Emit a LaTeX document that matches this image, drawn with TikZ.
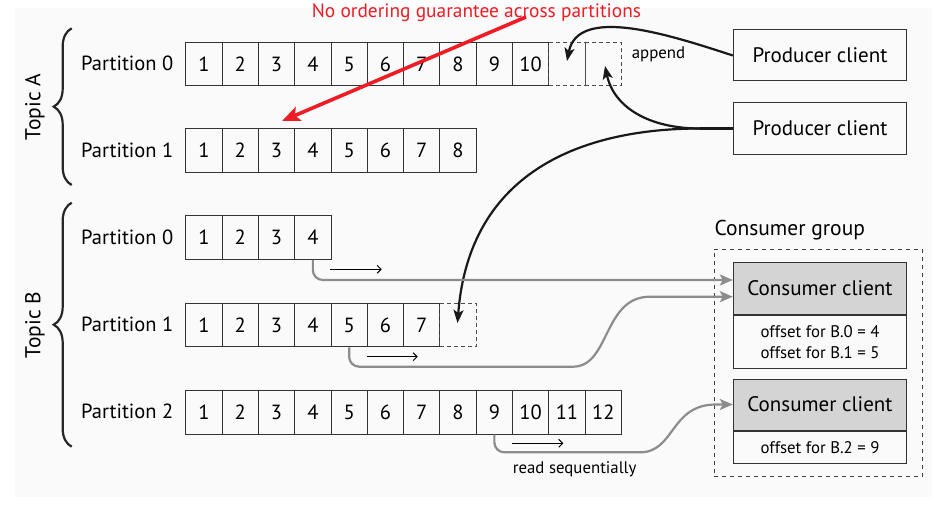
\documentclass[tikz,border=0pt]{standalone}
\usepackage{fontspec}
\setmainfont{PT Sans}
\usetikzlibrary{arrows.meta,decorations.pathreplacing}
\definecolor{kred}{HTML}{EE1C24}
\definecolor{kgray}{HTML}{8C8C8C}
\definecolor{kfill}{HTML}{D4D4D4}
\begin{document}
\begin{tikzpicture}[x=1pt,y=-1pt,
  cell/.style={draw=black!80, line width=1pt, minimum width=36.3pt, minimum height=43.6pt, inner sep=0pt, anchor=north west, font=\fontsize{20.5}{20.5}\selectfont},
  dcell/.style={cell, draw=black!70, dash pattern=on 4pt off 3pt},
  lbl/.style={inner sep=0pt, font=\fontsize{20.5}{20.5}\selectfont},
  small/.style={inner sep=0pt, font=\fontsize{16.8}{16.8}\selectfont},
  box/.style={draw=black!80, line width=1pt, minimum width=173.4pt, inner sep=0pt, font=\fontsize{21}{21}\selectfont},
  grayarr/.style={draw=kgray, line width=2.2pt, -{Stealth[length=13pt,width=11pt,inset=3pt]}},
  blackarr/.style={draw=black!90, line width=2.2pt, -{Stealth[length=13pt,width=10pt,inset=3pt]}},
  smallarr/.style={draw=black, line width=0.9pt, -{Straight Barb[length=4pt,width=8pt]}},
  topicbrace/.style={draw=black!85, line width=2.2pt, decorate, decoration={brace, amplitude=18pt}},
]
\useasboundingbox (0,0) rectangle (944,505);
\fill[black!2] (15,8) rectangle (932,497);

% braces and topics
\draw[topicbrace] (71.7,185) -- (71.7,28.3);
\draw[topicbrace] (71.7,446.7) -- (71.7,202.7);
\node[lbl, rotate=90, font=\fontsize{21.5}{21.5}\selectfont] (ta) at (35,107) {Topic A};
\node[lbl, rotate=90, font=\fontsize{21.5}{21.5}\selectfont] (tb) at (35,325) {Topic B};

% partitions
\node[lbl, anchor=east] (a0l) at (173.5,63.5) {Partition 0};
\node[lbl, anchor=east] (a1l) at (173.5,150.1) {Partition 1};
\node[lbl, anchor=east] (b0l) at (173.5,237.1) {Partition 0};
\node[lbl, anchor=east] (b1l) at (173.5,324.5) {Partition 1};
\node[lbl, anchor=east] (b2l) at (173.5,411.8) {Partition 2};

\foreach \i in {1,...,10} \node[cell] (a0c\i) at ({185.3+36.3*(\i-1)},41.7) {\i};
\node[dcell] (a0d1) at (548.3,41.7) {};
\node[dcell] (a0d2) at (584.6,41.7) {};
\foreach \i in {1,...,8} \node[cell] (a1c\i) at ({185.3+36.3*(\i-1)},128.3) {\i};
\foreach \i in {1,...,4} \node[cell] (b0c\i) at ({185.3+36.3*(\i-1)},215.3) {\i};
\foreach \i in {1,...,7} \node[cell] (b1c\i) at ({185.3+36.3*(\i-1)},302.7) {\i};
\node[dcell] (b1d1) at (439.4,302.7) {};
\foreach \i in {1,...,12} \node[cell] (b2c\i) at ({185.3+36.3*(\i-1)},390) {\i};

% producers
\node[box, minimum height=51pt] (p1) at (820,55.5) {Producer client};
\node[box, minimum height=51.6pt] (p2) at (820,128.5) {Producer client};
\node[small, anchor=base west] (app) at (631.7,58.3) {append};

% consumer group
\node[draw=black!75, line width=1pt, dash pattern=on 4pt off 4pt, minimum width=208pt, minimum height=227.7pt, inner sep=0pt] (cg) at (818.3,362.85) {};
\node[lbl, anchor=base west, font=\fontsize{21.5}{21.5}\selectfont] (cgl) at (714.3,235.7) {Consumer group};
\node[box, fill=kfill, minimum height=52pt] (cc1h) at (820,288.3) {Consumer client};
\node[box, minimum height=53pt, anchor=north, align=center, font=\fontsize{16.8}{20.7}\selectfont] (cc1b) at (cc1h.south) {offset for B.0 = 4\\offset for B.1 = 5};
\node[box, fill=kfill, minimum height=51pt] (cc2h) at (820,404.5) {Consumer client};
\node[box, minimum height=32.7pt, anchor=north, font=\fontsize{16.8}{16.8}\selectfont] (cc2b) at (cc2h.south) {offset for B.2 = 9};

% red annotation
\node[inner sep=0pt, anchor=base west, text=kred, font=\fontsize{19.4}{19.4}\selectfont] (note) at (311.7,17.5) {No ordering guarantee across partitions};
\coordinate (rs) at (526,17);
\coordinate (rt) at (282,121);
\draw[draw=kred, line width=3.6pt, -{Stealth[length=18pt,width=15pt,inset=4pt]}] (rs) -- (rt);

% producer arrows
\draw[blackarr] (p1.west) .. controls (670,35) and (578,5) .. (567,61);
\coordinate (pj) at (700,128.5);
\draw[line width=2.2pt, draw=black!90] (p2.west) -- (pj);
\draw[blackarr] (pj) .. controls (650,128.5) and (614,108) .. (605,66);
\draw[blackarr] (pj) .. controls (600,128.5) and (470,160) .. (457.5,323);

% consumer arrows
\draw[grayarr, rounded corners=10pt] (b0c4.south) |- (cc1h.west |- 0,280);
\draw[grayarr] (b1c5.south) [rounded corners=10pt] |- (563,366.7) [sharp corners] .. controls (610,366.7) and (603,296.7) .. (650,296.7) -- (cc1h.west |- 0,296.7);
\draw[grayarr] (b2c9.south) [rounded corners=10pt] |- (630,452.3) [sharp corners] .. controls (675,452.3) and (670,404.5) .. (716,404.5) -- (cc2h.west);

% read arrows
\coordinate (r0a) at (330,269.3); \coordinate (r0b) at (381.7,269.3);
\coordinate (r1a) at (366.7,356.7); \coordinate (r1b) at (417.7,356.7);
\coordinate (r2a) at (511.7,443.3); \coordinate (r2b) at (563.3,443.3);
\draw[smallarr] (r0a) -- (r0b);
\draw[smallarr] (r1a) -- (r1b);
\draw[smallarr] (r2a) -- (r2b);
\node[small, anchor=base west] (rsq) at (512.7,473.3) {read sequentially};
\end{tikzpicture}
\end{document}
